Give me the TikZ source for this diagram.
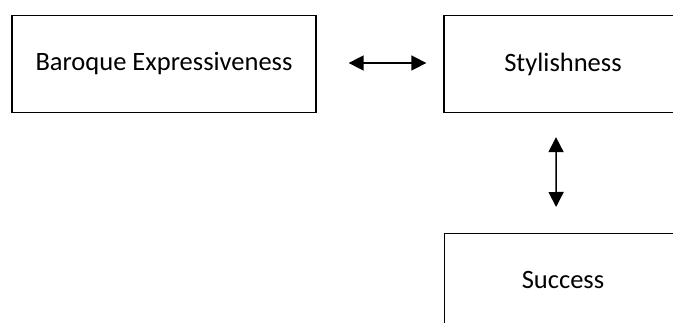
\documentclass[tikz,border=0pt]{standalone}
\usepackage{fontspec}
\setmainfont{Carlito}
\usetikzlibrary{arrows.meta}
\begin{document}
\begin{tikzpicture}[x=1pt,y=-1pt,
  box/.style={draw=black,line width=1.3pt,fill=white,minimum height=97pt,inner sep=0pt,font=\fontsize{26.5}{30}\selectfont},
  arr/.style={line width=1.6pt,{Triangle[length=15pt,width=15pt]}-{Triangle[length=15pt,width=15pt]}}]
\clip (0,0) rectangle (673,323);
\fill[white] (0,0) rectangle (673,323);
\node[box,minimum width=304pt] (b) at (164,64) {Baroque Expressiveness};
\node[box,minimum width=238pt] (s) at (563,64) {Stylishness};
\node[box,minimum width=238pt,anchor=north west] (c) at (443.5,233) {};
\node[font=\fontsize{26.5}{30}\selectfont] (ct) at (563,280) {Success};
\draw[arr,shorten <=32pt,shorten >=17pt] ([yshift=1pt]b.east) -- ([yshift=1pt]s.west);
\draw[arr,shorten <=24pt,shorten >=26pt] ([xshift=-7pt]s.south) -- ([xshift=-7pt]c.north);
\end{tikzpicture}
\end{document}
